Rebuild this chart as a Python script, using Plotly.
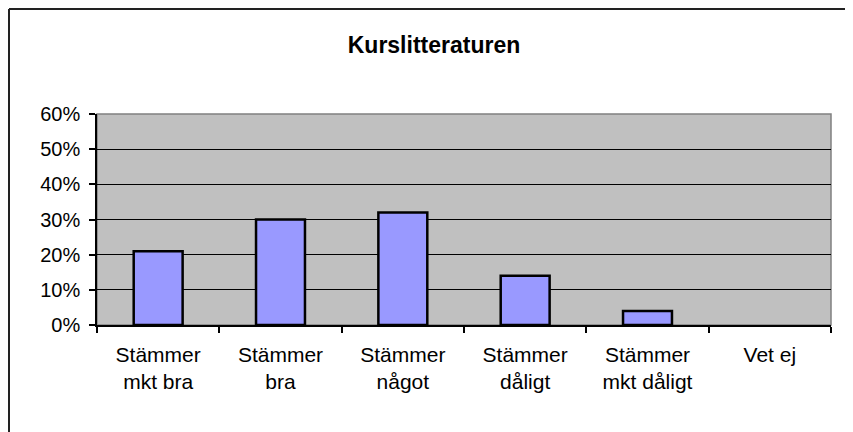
import plotly.graph_objects as go

categories = ["Stämmer<br>mkt bra", "Stämmer<br>bra", "Stämmer<br>något", "Stämmer<br>dåligt", "Stämmer<br>mkt dåligt", "Vet ej"]
values = [0.21, 0.30, 0.32, 0.14, 0.04, 0.0]
y_ticks = [0, 0.1, 0.2, 0.3, 0.4, 0.5, 0.6]
y_tick_labels = ["0%", "10%", "20%", "30%", "40%", "50%", "60%"]
title = "Kurslitteraturen"

# page body has an 8px margin, so figure coordinates = page coordinates - 8
W, H = 845, 424
L, R, T, B = 89, 22, 106, 107
pw, ph = W - L - R, H - T - B

fig = go.Figure(go.Bar(
    x=categories, y=values,
    marker=dict(color="#9999FF",
                line=dict(color="black", width=[2.5 if v > 0 else 0 for v in values])),
    width=0.4,
))

fig.update_layout(
    width=W, height=H,
    margin=dict(l=L, r=R, t=T, b=B, pad=0),
    paper_bgcolor="white",
    plot_bgcolor="#C0C0C0",
    font=dict(family="Liberation Sans, Arial, sans-serif", size=21, color="black"),
    title=dict(text="<b>" + title + "</b>", x=(426 - L) / pw, xref="paper", xanchor="center",
               y=1 - 37 / H, yanchor="middle", font=dict(size=23)),
    showlegend=False,
    bargap=0.6,
    shapes=[
        dict(type="rect", xref="paper", yref="paper", x0=0, x1=1, y0=0, y1=1,
             line=dict(color="#808080", width=1.5), layer="below"),
        dict(type="line", xref="paper", yref="paper", x0=(1 - L) / pw, x1=(W + 5 - L) / pw,
             y0=(H - B - 1) / ph, y1=(H - B - 1) / ph, line=dict(color="#222", width=2)),
        dict(type="line", xref="paper", yref="paper", x0=(1 - L) / pw, x1=(1 - L) / pw,
             y0=(H - B - 1) / ph, y1=(H - B - H - 5) / ph, line=dict(color="#222", width=2)),
    ],
)

fig.update_xaxes(
    type="category",
    showline=True, linecolor="black", linewidth=1.5,
    ticks="outside", tickson="boundaries", ticklen=6, tickcolor="black", tickwidth=1.5,
    ticklabelstandoff=10,
    showgrid=False, tickfont=dict(size=21),
)
fig.update_yaxes(
    range=[0, 0.6],
    tickvals=y_ticks, ticktext=y_tick_labels,
    showline=True, linecolor="black", linewidth=1.5,
    ticks="outside", ticklen=6, tickcolor="black", tickwidth=1.5,
    ticklabelstandoff=5,
    showgrid=True, gridcolor="black", gridwidth=1,
    zeroline=False, tickfont=dict(size=20),
)

fig.write_html("out.html")
